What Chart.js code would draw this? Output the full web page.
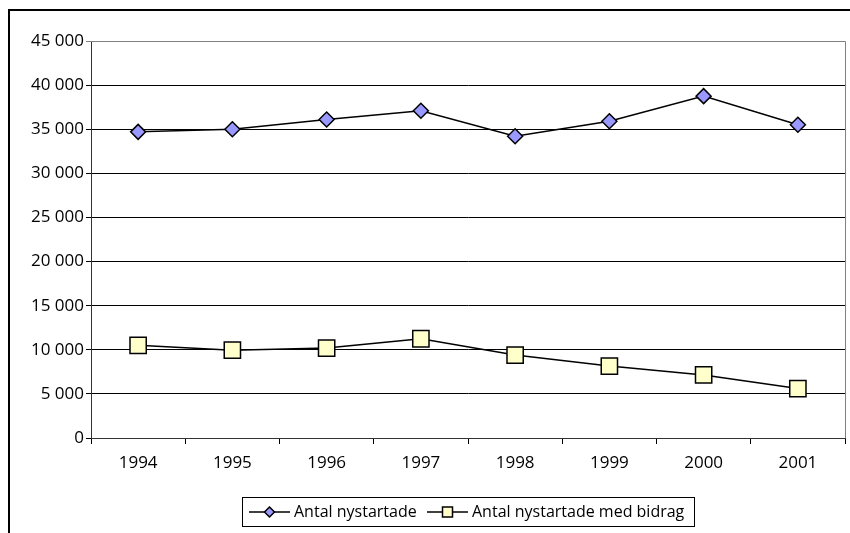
<!DOCTYPE html>
<html lang="sv">
<head>
<meta charset="utf-8">
<title>Antal nystartade</title>
<script src="https://cdn.jsdelivr.net/npm/chart.js@4.4.0/dist/chart.umd.min.js"></script>
<style>
  html, body { margin: 0; padding: 0; background: #fff; }
  #wrap { width: 850px; height: 533px; position: relative; }
</style>
</head>
<body>
<div id="wrap"><canvas id="chart" width="850" height="533"></canvas></div>
<script>
var years = ['1994', '1995', '1996', '1997', '1998', '1999', '2000', '2001'];
var nystartade = [34700, 35000, 36100, 37100, 34200, 35900, 38750, 35500];
var medBidrag = [10500, 9950, 10200, 11250, 9400, 8150, 7150, 5600];
var seriesNames = ['Antal nystartade', 'Antal nystartade med bidrag'];
var yTicks = [0, 5000, 10000, 15000, 20000, 25000, 30000, 35000, 40000, 45000];

var FONT = '"Open Sans", sans-serif';

function fmt(v) {
  return String(v).replace(/\B(?=(\d{3})+(?!\d))/g, ' ');
}

// outer frame, plot border and the legend box
var framePlugin = {
  id: 'frame',
  afterDraw: function(chart) {
    var c = chart.ctx, a = chart.chartArea;
    c.save();
    c.strokeStyle = '#000';
    c.lineWidth = 2;
    c.beginPath();
    c.moveTo(9, 540); c.lineTo(9, 10); c.lineTo(860, 10);
    c.stroke();

    c.lineWidth = 1;
    c.strokeStyle = '#808080';
    c.beginPath();
    c.moveTo(a.left, Math.round(a.top) + 0.5);
    c.lineTo(Math.round(a.right) + 0.5, Math.round(a.top) + 0.5);
    c.lineTo(Math.round(a.right) + 0.5, a.bottom);
    c.stroke();

    // legend
    var lx = 242.5, ly = 497.5, lw = 452, lh = 29;
    c.strokeStyle = '#000';
    c.strokeRect(lx, ly, lw, lh);
    var cy = 512;
    var items = [
      { x: 249, ds: chart.data.datasets[0] },
      { x: 427, ds: chart.data.datasets[1] }
    ];
    c.font = '16px ' + FONT;
    c.textBaseline = 'middle';
    items.forEach(function(it) {
      c.strokeStyle = '#000';
      c.lineWidth = 1.5;
      c.beginPath();
      c.moveTo(it.x, cy); c.lineTo(it.x + 41, cy);
      c.stroke();
      c.fillStyle = it.ds.pointBackgroundColor;
      c.beginPath();
      if (it.ds.pointStyle === 'rect') {
        c.rect(it.x + 15.5, cy - 5, 10, 10);
      } else {
        c.moveTo(it.x + 20.5, cy - 5); c.lineTo(it.x + 25.5, cy);
        c.lineTo(it.x + 20.5, cy + 5); c.lineTo(it.x + 15.5, cy);
        c.closePath();
      }
      c.fill(); c.stroke();
      c.fillStyle = '#000';
      c.textAlign = 'left';
      c.fillText(it.ds.label, it.x + 45, cy);
    });
    c.restore();
  }
};

new Chart(document.getElementById('chart'), {
  type: 'line',
  data: {
    labels: years,
    datasets: [
      {
        label: seriesNames[0],
        data: nystartade,
        borderColor: '#000',
        borderWidth: 1.5,
        pointStyle: 'rectRot',
        pointRadius: 7.5,
        pointHoverRadius: 7.5,
        pointBackgroundColor: '#9999ff',
        pointBorderColor: '#000',
        pointBorderWidth: 1.5,
        tension: 0
      },
      {
        label: seriesNames[1],
        data: medBidrag,
        borderColor: '#000',
        borderWidth: 1.5,
        pointStyle: 'rect',
        pointRadius: 11.5,
        pointHoverRadius: 11.5,
        pointBackgroundColor: '#ffffcc',
        pointBorderColor: '#000',
        pointBorderWidth: 1.5,
        tension: 0
      }
    ]
  },
  options: {
    responsive: false,
    animation: false,
    layout: { autoPadding: false, padding: { left: 0, top: 41, right: 5, bottom: 0 } },
    plugins: {
      legend: { display: false },
      tooltip: { enabled: false }
    },
    scales: {
      x: {
        offset: true,
        grid: {
          offset: true,
          drawOnChartArea: false,
          drawTicks: true,
          tickLength: 6,
          color: '#000'
        },
        border: { display: true, color: '#333', width: 1 },
        ticks: {
          color: '#000',
          font: { family: FONT, size: 17 },
          padding: 9,
          maxRotation: 0
        },
        afterFit: function(s) {
          s.height = 95;
          s.paddingLeft = 0;
          s.paddingRight = 0;
        }
      },
      y: {
        min: 0,
        max: 45000,
        afterBuildTicks: function(s) {
          s.ticks = yTicks.map(function(v) { return { value: v }; });
        },
        grid: {
          color: function(ctx) {
            return ctx.tick && ctx.tick.value === 45000 ? '#808080' : '#000';
          },
          tickLength: 5,
          lineWidth: 1
        },
        border: { display: true, color: '#333', width: 1 },
        ticks: {
          color: '#000',
          font: { family: FONT, size: 17 },
          padding: 2,
          callback: function(v) { return fmt(v); }
        },
        afterFit: function(s) { s.width = 91; }
      }
    }
  },
  plugins: [framePlugin]
});
</script>
</body>
</html>
